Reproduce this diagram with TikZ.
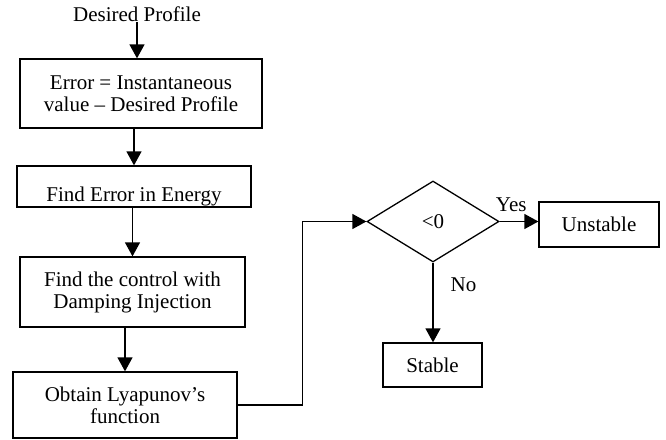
\documentclass[tikz,border=0pt]{standalone}
\usepackage{fontspec}
\setmainfont{Liberation Serif}
\usepackage{tikz}
\usetikzlibrary{shapes.geometric,arrows.meta}

\begin{document}
\begin{tikzpicture}[x=1pt,y=-1pt,line width=1.3pt,
			>={Triangle[length=14pt,width=15pt]}]
			\tikzstyle{every node}=[font=\fontsize{21}{22}\selectfont,inner sep=0pt]
			\tikzstyle{stepbox}=[rectangle,draw,align=center]
		\useasboundingbox (0,0) rectangle (666,439);

		% left column
		\node (desired) at (137,14) {Desired Profile};
		\node[stepbox,minimum width=242pt,minimum height=69pt] (err) at (141,93.5)
			{Error = Instantaneous\\value -- Desired Profile};
		\node[stepbox,minimum width=234pt,minimum height=41pt,text height=30pt,text depth=0pt] (energy) at (134,186.5)
			{Find Error in Energy};
		\node[stepbox,minimum width=225pt,minimum height=70pt] (ctrl) at (132.5,292)
			{Find the control with\\Damping Injection};
		\node[stepbox,minimum width=224pt,minimum height=66pt] (lyap) at (125,405)
			{Obtain Lyapunov's\\function};

		% decision
		\node[diamond,draw,minimum width=132pt,minimum height=81pt] (check) at (433,221.5) {\raisebox{-4pt}{<0}};
		\node[stepbox,minimum width=120pt,minimum height=45pt] (unstable) at (599,224.5) {Unstable};
		\node[stepbox,minimum width=99pt,minimum height=44pt] (stable) at (432.5,365) {Stable};

		\draw[->] (desired.south) -- (desired.south |- err.north);
		\draw[->] (err.south -| energy.north) -- (energy.north);
		\draw[->] (energy.south -| ctrl.north) -- (ctrl.north);
		\draw[->] (ctrl.south -| lyap.north) -- (lyap.north);
		\draw[->] (lyap.east) -- ++(65,0) |- (check.west);
		\draw[->] (check.east) -- (check.east -| unstable.west)
			node[pos=0.3,above=9pt] {Yes};
		\draw[->] (check.south) -- (check.south |- stable.north)
			node[pos=0.28,right=17pt] {No};

	  	\end{tikzpicture}
\end{document}
